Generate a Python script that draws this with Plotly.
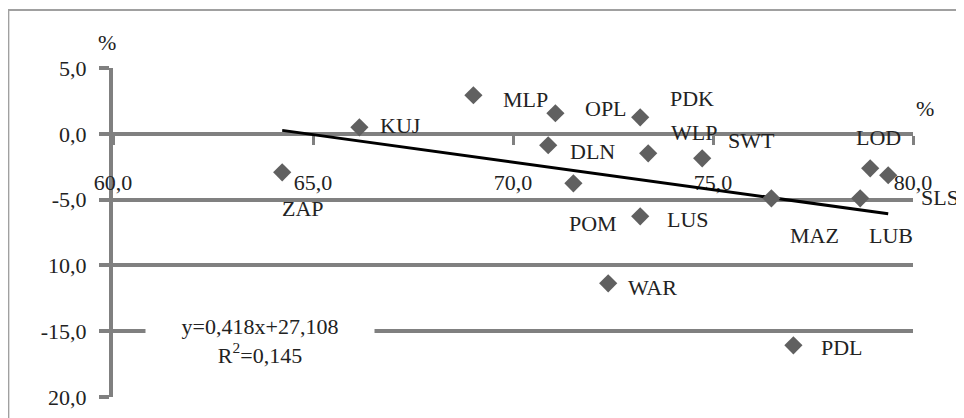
import plotly.graph_objects as go

# ---- data ----
regions = ["ZAP", "KUJ", "MLP", "OPL", "DLN", "POM", "PDK", "WLP",
           "LUS", "WAR", "SWT", "MAZ", "LOD", "SLS", "LUB", "PDL"]
x_vals = [64.23, 66.16, 69.01, 71.06, 70.88, 71.51, 73.18, 73.38,
          73.18, 72.38, 74.73, 76.46, 78.93, 79.38, 78.68, 77.01]
y_vals = [-2.93, 0.49, 2.93, 1.56, -0.87, -3.76, 1.25, -1.48,
          -6.27, -11.36, -1.86, -4.90, -2.62, -3.15, -4.90, -16.07]

x_ticks = [60, 65, 70, 75, 80]
x_tick_text = ["60,0", "65,0", "70,0", "75,0", "80,0"]
y_ticks = [5, 0, -5, -10, -15, -20]
y_tick_text = ["5,0", "0,0", "-5,0", "10,0", "-15,0", "20,0"]

trend_slope = -0.418
trend_intercept = 27.108
equation_text = "y=0,418x+27,108<br>R<sup>2</sup>=0,145"

# label offsets in pixels (style only)
label_shift = {
    "ZAP": (21, -36), "KUJ": (41, 2), "MLP": (52, -4), "OPL": (51, 5),
    "DLN": (44, -6), "POM": (20, -40), "PDK": (52, 19), "WLP": (46, 21),
    "LUS": (48, -3), "WAR": (44, -4), "SWT": (49, 18), "MAZ": (43, -37),
    "LOD": (8, 31), "SLS": (52, -22), "LUB": (31, -37), "PDL": (49, -2),
}

GRID = "#808080"
FONT = dict(family="Liberation Serif", size=22, color="#222222")

fig = go.Figure()

xmin, xmax = min(x_vals), max(x_vals)
fig.add_trace(go.Scatter(
    x=[xmin, xmax],
    y=[trend_slope * xmin + trend_intercept, trend_slope * xmax + trend_intercept],
    mode="lines", line=dict(color="black", width=3), hoverinfo="skip"))

fig.add_trace(go.Scatter(
    x=x_vals, y=y_vals, mode="markers", text=regions,
    marker=dict(symbol="diamond", size=14, color="#606060")))

annotations = []
for name, xv, yv in zip(regions, x_vals, y_vals):
    dx, dy = label_shift[name]
    annotations.append(dict(x=xv, y=yv, xref="x", yref="y", text=name,
                            xanchor="center", yanchor="middle",
                            showarrow=False, xshift=dx, yshift=dy, font=FONT))

annotations.append(dict(x=63.68, y=-15.77, xref="x", yref="y", text=equation_text,
                        xanchor="center", yanchor="middle",
                        showarrow=False, bgcolor="white", width=226, align="center",
                        font=FONT))
annotations.append(dict(x=-0.007, y=1.076, xref="paper", yref="paper", text="%",
                        xanchor="center", yanchor="middle",
                        showarrow=False, font=FONT))
annotations.append(dict(x=1.015, y=0.878, xref="paper", yref="paper", text="%",
                        xanchor="center", yanchor="middle",
                        showarrow=False, font=FONT))

fig.update_layout(
    width=964, height=418,
    margin=dict(l=105, r=59, t=60, b=29),
    template="none",
    paper_bgcolor="white", plot_bgcolor="white",
    showlegend=False,
    font=FONT,
    annotations=annotations,
    shapes=[dict(type="rect", xref="paper", yref="paper",
                 x0=-0.1308, x1=1.08, y0=-0.1, y1=1.176,
                 line=dict(color="#a0a0a0", width=2), layer="below")],
    xaxis=dict(range=[60, 80], tickvals=x_ticks, ticktext=x_tick_text,
               anchor="free", position=0.8, showgrid=False, zeroline=False,
               showline=True, linecolor=GRID, linewidth=4,
               ticks="outside", ticklen=9, tickwidth=3, tickcolor=GRID,
               ticklabelstandoff=19, tickfont=FONT, layer="below traces",
               automargin=False),
    yaxis=dict(range=[-20, 5], tickvals=y_ticks, ticktext=y_tick_text,
               showgrid=True, gridcolor=GRID, gridwidth=4, zeroline=False,
               showline=True, linecolor=GRID, linewidth=4,
               ticks="outside", ticklen=10, tickwidth=4, tickcolor=GRID,
               ticklabelstandoff=8,
               tickfont=FONT, layer="below traces", automargin=False),
)

fig.write_html("out.html")
